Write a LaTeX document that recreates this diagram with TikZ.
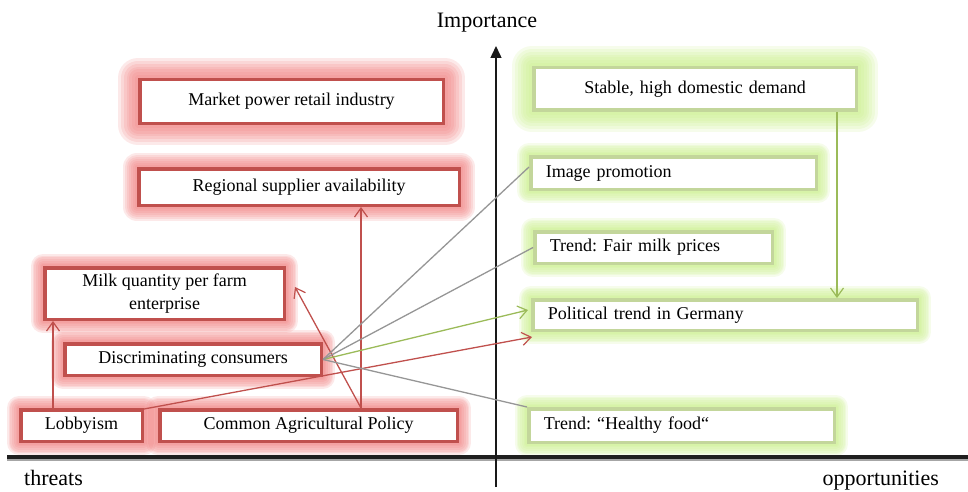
\documentclass[tikz,border=0pt]{standalone}
\usepackage{fontspec}
\setmainfont{Liberation Serif}
\frenchspacing
\usetikzlibrary{arrows.meta,backgrounds,calc}
\definecolor{redb}{RGB}{192,80,77}
\definecolor{redglow}{RGB}{240,125,125}
\definecolor{greenb}{RGB}{195,214,155}
\definecolor{greenglow}{RGB}{200,238,135}
\definecolor{greenline}{RGB}{155,187,89}
\definecolor{grayline}{RGB}{150,150,150}
\newcommand\glowbox[3]{%
  \foreach \k in {1,...,7}{%
    \pgfmathsetmacro\lw{2*#3*\k/7}%
    \draw[#2, line width=\lw pt, opacity=0.17, line join=round] (#1.south west) rectangle (#1.north east);
  }%
}
\begin{document}
\begin{tikzpicture}[x=1pt,y=-1pt,
  boxtext/.style={font=\fontsize{18}{23}\selectfont},
  redbox/.style={boxtext, draw=redb, line width=3.5pt, fill=white, align=center, inner sep=0pt},
  greenbox/.style={boxtext, draw=greenb, line width=3.5pt, fill=white, align=left, inner xsep=15pt, inner ysep=0pt},
  axislabel/.style={font=\fontsize{22}{26}\selectfont, inner sep=0pt},
  tip/.style={-{Straight Barb[length=9pt,width=13pt,line width=1.2pt]}},
  redcon/.style={draw=redb, line width=1.3pt, tip},
  greencon/.style={draw=greenline, line width=1.3pt, tip},
  graycon/.style={draw=grayline, line width=1.3pt}
]
\useasboundingbox (0,0) rectangle (968,492);

% axes
\coordinate (xl) at (7,457);
\coordinate (xr) at (968,457);
\coordinate (ybot) at (496,487);
\coordinate (ytop) at (496,46);
\draw[black!35, line width=2pt] ([yshift=-3pt]xl) -- ([yshift=-3pt]xr);
\draw[black!88, line width=3.5pt] (xl) -- (xr);
\draw[black!90, line width=1.5pt, -{Triangle[length=12pt,width=11pt]}] (ybot) -- (ytop);

\node[axislabel, anchor=base] (imp) at (487,28) {Importance};
\node[axislabel, anchor=base west] (thr) at (24,485) {threats};
\node[axislabel, anchor=base east] (opp) at (939,485) {opportunities};

% threats (red)
\node[redbox, minimum width=303.5pt, minimum height=43.5pt] (mpri) at (291.5,101.5) {Market power retail industry};
\node[redbox, minimum width=320.5pt, minimum height=36.5pt] (rsa) at (299,187) {Regional supplier availability};
\node[redbox, minimum width=239.5pt, minimum height=51.5pt] (milk) at (164.5,293.5) {Milk quantity per farm\\enterprise};
\node[redbox, minimum width=256.5pt, minimum height=31.5pt] (disc) at (193,359.5) {Discriminating consumers};
\node[redbox, minimum width=121.5pt, minimum height=31.5pt] (lobby) at (81.5,425.5) {Lobbyism};
\node[redbox, minimum width=297.5pt, minimum height=31.5pt] (cap) at (308.5,425.5) {Common Agricultural Policy};

% opportunities (green)
\node[greenbox, align=center, text width=292.5pt, minimum height=42.5pt] (stable) at (695,89) {Stable, high domestic demand};
\node[greenbox, text width=255.5pt, minimum height=32.5pt] (image) at (673.5,173) {Image promotion};
\node[greenbox, text width=207.5pt, minimum height=31.5pt] (fair) at (653.5,247.5) {Trend: Fair milk prices};
\node[greenbox, text width=354.5pt, minimum height=30.5pt] (polit) at (725,315) {Political trend in Germany};
\node[greenbox, text width=275.5pt, minimum height=33.5pt] (healthy) at (681.5,425.5) {Trend: “Healthy food“};

\begin{scope}[on background layer]
  \glowbox{mpri}{redglow}{20}
  \glowbox{rsa}{redglow}{14}
  \glowbox{milk}{redglow}{12}
  \glowbox{disc}{redglow}{12}
  \glowbox{lobby}{redglow}{12}
  \glowbox{cap}{redglow}{12}
  \glowbox{stable}{greenglow}{20}
  \glowbox{image}{greenglow}{12}
  \glowbox{fair}{greenglow}{12}
  \glowbox{polit}{greenglow}{12}
  \glowbox{healthy}{greenglow}{12}
\end{scope}

% connectors
\coordinate (lbtop) at ([xshift=34pt]lobby.north west);
\coordinate (captop) at ([xshift=203pt]cap.north west);
\coordinate (stbot) at ([xshift=305pt]stable.south west);

\draw[redcon] (lbtop) -- (lbtop |- milk.south);
\draw[redcon] (captop) -- (captop |- rsa.south);
\draw[redcon] (captop) -- ([xshift=9pt,yshift=6.5pt]milk.east);
\draw[redcon] ([yshift=-1pt]lobby.north east) -- ([xshift=1pt,yshift=-5pt]polit.south west);
\draw[greencon] (disc.east) -- ([xshift=-3pt,yshift=5pt]polit.west);
\draw[graycon] (disc.east) -- ([yshift=6pt]image.west);
\draw[graycon] (disc.east) -- (fair.west);
\draw[graycon] (disc.east) -- (healthy.north west);
\draw[greencon] (stbot) -- (stbot |- polit.north);
\end{tikzpicture}
\end{document}
